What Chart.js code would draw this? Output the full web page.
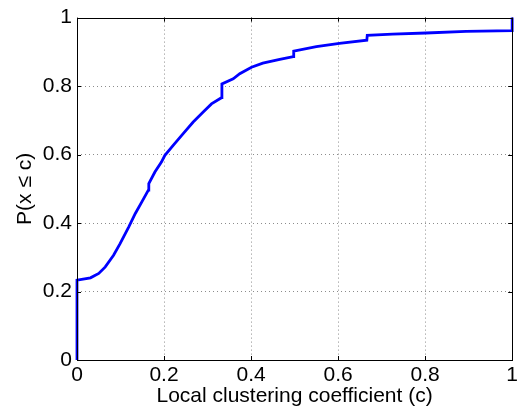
<!DOCTYPE html>
<html>
<head>
<meta charset="utf-8">
<script src="https://cdn.jsdelivr.net/npm/chart.js@4"></script>
<style>
  html, body { margin: 0; padding: 0; background: #fff; }
</style>
</head>
<body>
<canvas id="cdf" width="521" height="413"></canvas>
<script>
  // CDF points (x = clustering coefficient, y = P(x <= c))
  const coeffX = [0, 0, 0.031, 0.050, 0.065, 0.084, 0.099, 0.119, 0.134, 0.149, 0.164, 0.165,
    0.179, 0.194, 0.202, 0.221, 0.244, 0.267, 0.290, 0.309, 0.332, 0.333,
    0.359, 0.374, 0.401, 0.427, 0.466, 0.497, 0.498, 0.550, 0.603, 0.666, 0.667,
    0.725, 0.802, 0.894, 1.0, 1.0];
  const cumProb = [0, 0.233, 0.240, 0.253, 0.272, 0.306, 0.340, 0.389, 0.428, 0.462, 0.496, 0.515,
    0.549, 0.578, 0.598, 0.627, 0.661, 0.695, 0.724, 0.748, 0.766, 0.806,
    0.821, 0.836, 0.855, 0.867, 0.878, 0.886, 0.902, 0.915, 0.925, 0.934, 0.948,
    0.952, 0.955, 0.960, 0.962, 1.0];
  const tickVals = [0, 0.2, 0.4, 0.6, 0.8, 1];

  const fontFam = "'Liberation Sans', Arial, sans-serif";

  // grid only on the inner ticks, the frame is drawn separately
  const gridColor = ctx => (ctx.tick && (ctx.tick.value === 0 || ctx.tick.value === 1)) ? 'rgba(0,0,0,0)' : '#8c8c8c';

  // box + inward tick marks like matlab
  const framePlugin = {
    id: 'frame',
    afterDatasetsDraw(chart) {
      const { ctx, chartArea: a, scales } = chart;
      ctx.save();
      ctx.strokeStyle = '#000';
      ctx.lineWidth = 1;
      ctx.beginPath();
      tickVals.forEach(v => {
        const px = Math.round(scales.x.getPixelForValue(v)) + 0.5;
        ctx.moveTo(px, a.bottom); ctx.lineTo(px, a.bottom - 4);
        ctx.moveTo(px, a.top); ctx.lineTo(px, a.top + 4);
        const py = Math.round(scales.y.getPixelForValue(v)) + 0.5;
        ctx.moveTo(a.left, py); ctx.lineTo(a.left + 4, py);
        ctx.moveTo(a.right, py); ctx.lineTo(a.right - 4, py);
      });
      ctx.stroke();
      ctx.strokeRect(Math.round(a.left) + 0.5, Math.round(a.top) + 0.5,
        Math.round(a.right - a.left), Math.round(a.bottom - a.top));
      ctx.restore();
    }
  };

  new Chart(document.getElementById('cdf'), {
    type: 'scatter',
    data: {
      datasets: [{
        data: coeffX.map((x, i) => ({ x: x, y: cumProb[i] })),
        showLine: true,
        borderColor: '#0000ff',
        borderWidth: 2.8,
        pointRadius: 0,
        tension: 0,
        clip: false
      }]
    },
    options: {
      responsive: false,
      animation: false,
      layout: { padding: { left: 0, right: 8, top: 17, bottom: 0 } },
      plugins: { legend: { display: false }, tooltip: { enabled: false } },
      scales: {
        x: {
          type: 'linear', min: 0, max: 1,
          afterBuildTicks: s => { s.ticks = tickVals.map(v => ({ value: v })); },
          afterFit: s => { s.height = 53; },
          grid: { color: gridColor, drawTicks: false, lineWidth: 1 },
          border: { display: false, dash: [1, 3] },
          ticks: { color: '#000', font: { family: fontFam, size: 21 }, padding: 3,
            maxRotation: 0, autoSkip: false, callback: v => String(v) },
          title: { display: true, text: 'Local clustering coefficient (c)', color: '#000',
            font: { family: fontFam, size: 21 }, padding: { top: 0, bottom: 4 } }
        },
        y: {
          type: 'linear', min: 0, max: 1,
          afterBuildTicks: s => { s.ticks = tickVals.map(v => ({ value: v })); },
          afterFit: s => { s.width = 77; },
          grid: { color: gridColor, drawTicks: false, lineWidth: 1 },
          border: { display: false, dash: [1, 3] },
          ticks: { color: '#000', font: { family: fontFam, size: 21 }, padding: 5,
            autoSkip: false, callback: v => String(v) },
          title: { display: true, text: 'P(x \u2264 c)', color: '#000',
            font: { family: fontFam, size: 21 }, padding: { top: 13, bottom: 0 } }
        }
      }
    },
    plugins: [framePlugin]
  });
</script>
</body>
</html>
